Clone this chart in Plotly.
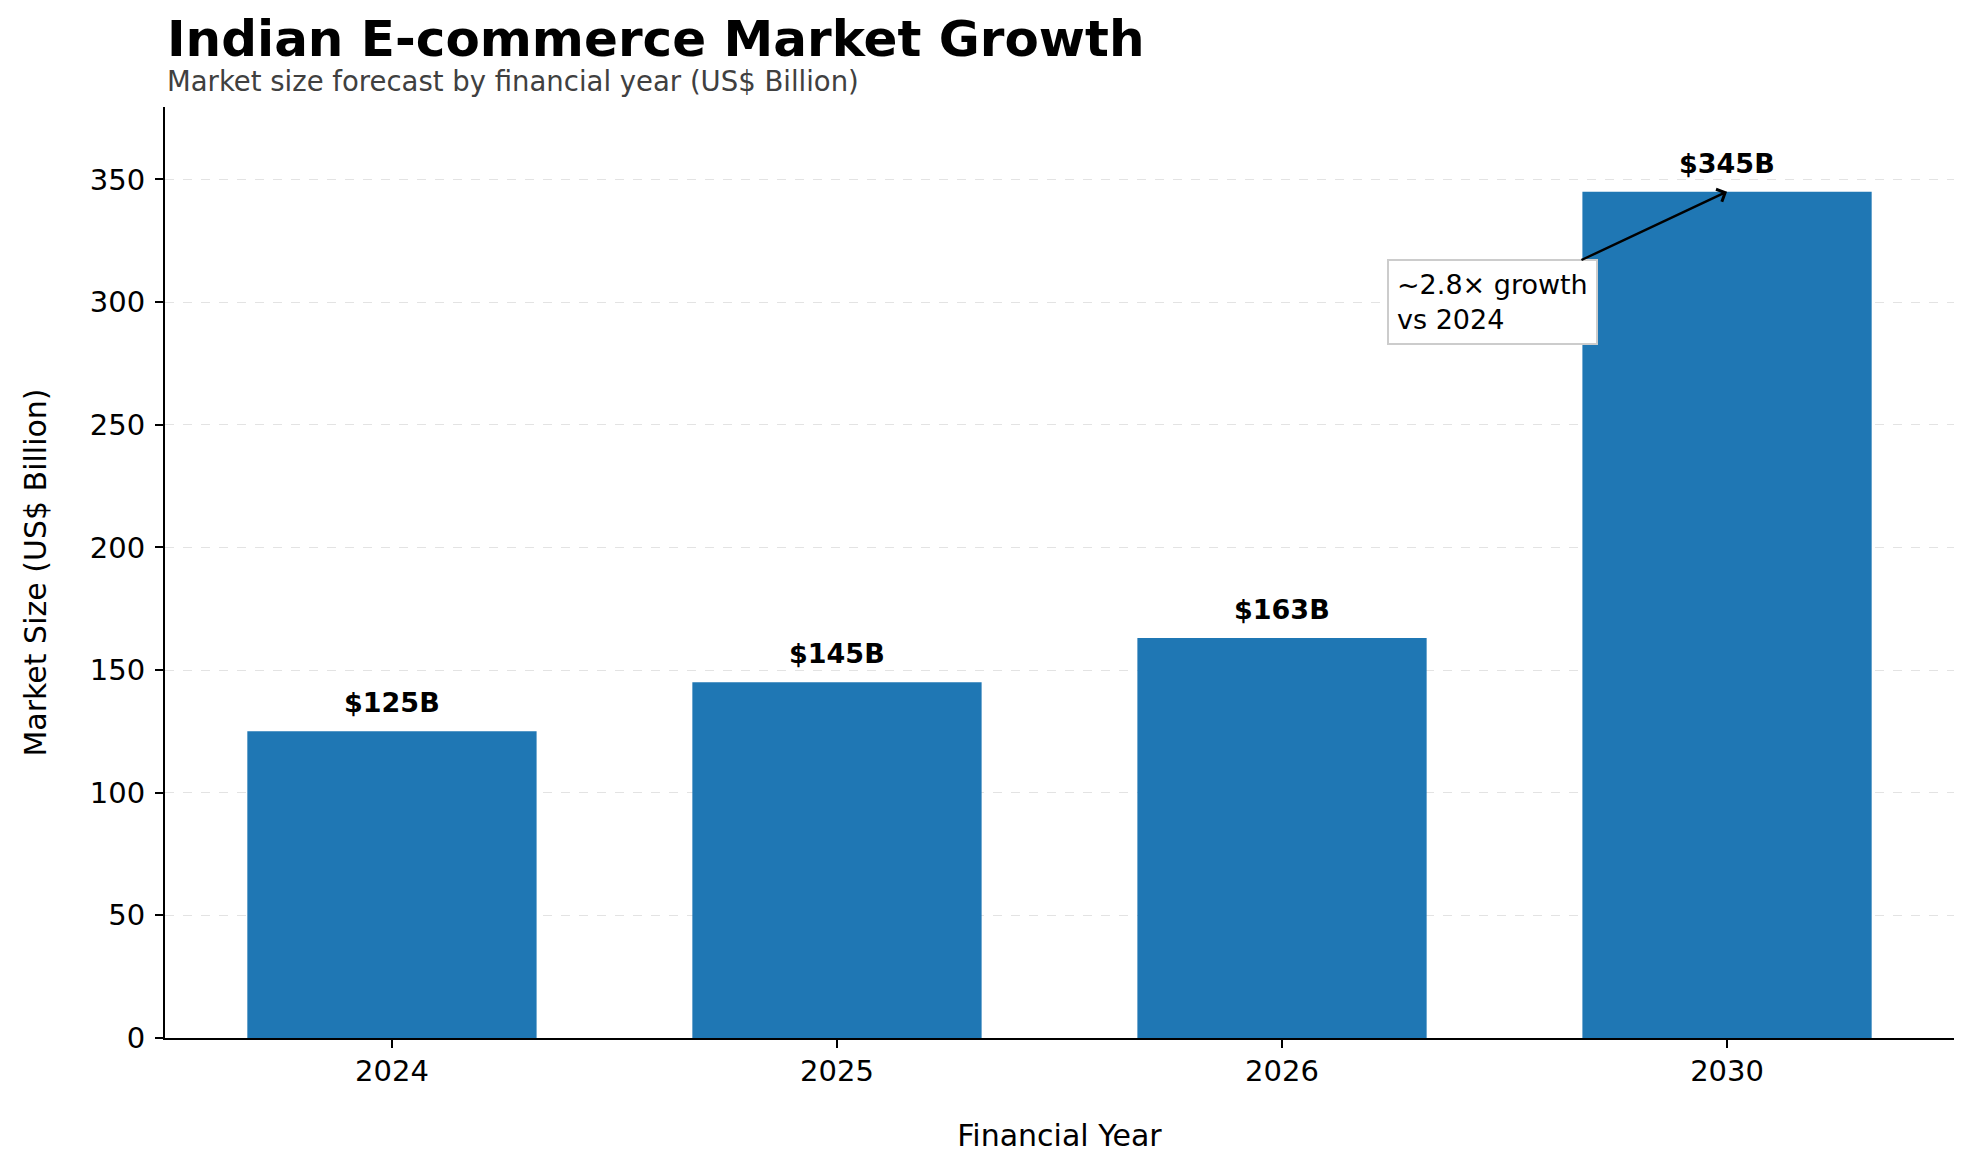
import plotly.graph_objects as go

years = ["2024", "2025", "2026", "2030"]
market_size = [125, 145, 163, 345]
bar_labels = ["$125B", "$145B", "$163B", "$345B"]
y_ticks = [0, 50, 100, 150, 200, 250, 300, 350]

font_family = "DejaVu Sans"
bar_color = "#1f77b4"

fig = go.Figure()
fig.add_trace(go.Bar(x=years, y=market_size, width=0.65,
                     marker=dict(color=bar_color, line=dict(width=0)),
                     showlegend=False, hoverinfo="x+y"))

# value labels above the bars (category index used as x)
for i, (val, lab) in enumerate(zip(market_size, bar_labels)):
    fig.add_annotation(x=i, y=val, text="<b>" + lab + "</b>", showarrow=False,
                       xanchor="center", yanchor="bottom", yshift=11,
                       font=dict(family=font_family, size=27, color="black"))

# growth callout, arrow drawn from the box centre to the 2030 bar top
fig.add_annotation(x=3, y=345, xref="x", yref="y",
                   ax=2.472, ay=300, axref="x", ayref="y",
                   text="~2.8× growth<br>vs 2024", align="left",
                   xanchor="center", yanchor="middle",
                   showarrow=True, arrowhead=4, arrowsize=1.1, arrowwidth=2.4,
                   arrowcolor="black",
                   bgcolor="white", bordercolor="#cccccc", borderwidth=2, borderpad=8,
                   font=dict(family=font_family, size=27, color="black"))

# title + subtitle
fig.add_annotation(x=0, y=1.073, xref="paper", yref="paper", xanchor="left", yanchor="middle",
                   text="<b>Indian E-commerce Market Growth</b>", showarrow=False,
                   font=dict(family=font_family, size=50, color="black"))
fig.add_annotation(x=0, y=1.028, xref="paper", yref="paper", xanchor="left", yanchor="middle",
                   text="Market size forecast by financial year (US$ Billion)", showarrow=False,
                   font=dict(family=font_family, size=27.5, color="#404040"))

fig.update_layout(
    width=1966, height=1165,
    margin=dict(l=157, r=20, t=99, b=135),
    plot_bgcolor="white", paper_bgcolor="white",
    font=dict(family=font_family, size=29, color="black"),
)
fig.update_xaxes(
    type="category", range=[-0.51, 3.51],
    showline=True, linecolor="black", linewidth=2,
    ticks="outside", ticklen=8, tickcolor="black", tickwidth=2,
    tickfont=dict(size=29), showgrid=False, ticklabelstandoff=-2,
    title=dict(text="Financial Year", font=dict(size=30), standoff=38),
)
fig.update_yaxes(
    range=[0, 379.5], tickvals=y_ticks,
    showline=True, linecolor="black", linewidth=2,
    ticks="outside", ticklen=8, tickcolor="black", tickwidth=2,
    tickfont=dict(size=29), ticklabelstandoff=4,
    showgrid=True, gridcolor="#e3e3e3", gridwidth=1.2, griddash="dash",
    zeroline=False,
    title=dict(text="Market Size (US$ Billion)", font=dict(size=30), standoff=34),
)

fig.write_html("out.html")
